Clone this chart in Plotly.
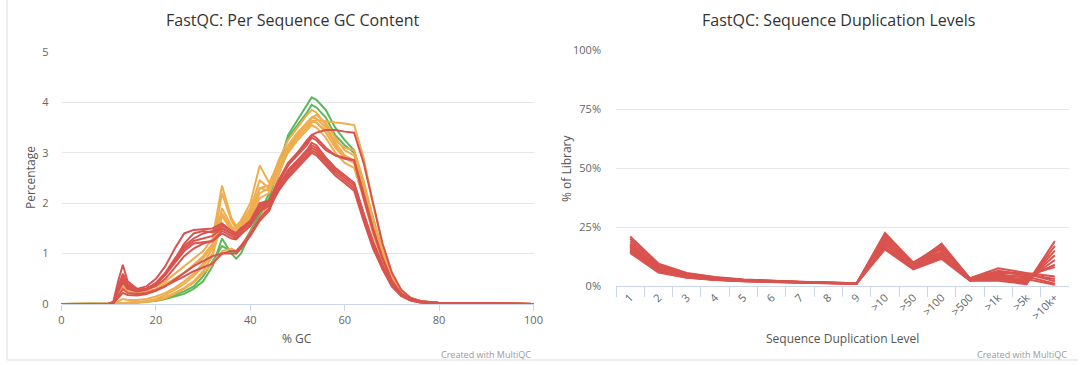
import plotly.graph_objects as go

W, H = 1082, 365

# ---------------- GC content data ----------------
gc_x = [0, 10, 11, 12, 13, 14, 16, 18, 20, 22, 24, 26, 28, 30, 32, 34, 36, 37, 38, 40,
        42, 44, 46, 48, 50, 52, 53, 54, 56, 58, 60, 62, 64, 66, 68, 70, 72, 74, 76, 80, 85, 100]

gc_green_1 = [0, 0, 0, 0.01, 0.01, 0.02, 0.03, 0.04, 0.06, 0.1, 0.15, 0.2, 0.3, 0.45, 0.75, 1.3, 1.0, 0.9, 1.0, 1.4,
              1.75, 2.1, 2.7, 3.35, 3.65, 3.95, 4.1, 4.05, 3.85, 3.5, 3.25, 3.05, 2.4, 1.7, 1.05, 0.55, 0.25, 0.12, 0.06, 0.02, 0.01, 0]
gc_green_2 = [0, 0, 0, 0.01, 0.02, 0.02, 0.03, 0.05, 0.08, 0.12, 0.18, 0.25, 0.35, 0.55, 0.85, 1.15, 1.05, 1.0, 1.1, 1.45,
              1.8, 2.2, 2.75, 3.3, 3.55, 3.8, 3.95, 3.9, 3.7, 3.35, 3.15, 3.0, 2.35, 1.65, 1.0, 0.5, 0.22, 0.1, 0.05, 0.02, 0.01, 0]

gc_orange_1 = [0, 0, 0.02, 0.3, 0.55, 0.35, 0.25, 0.28, 0.35, 0.45, 0.6, 0.75, 0.9, 1.05, 1.3, 2.35, 1.7, 1.55, 1.65, 2.0,
               2.75, 2.4, 2.8, 3.1, 3.35, 3.6, 3.7, 3.75, 3.6, 3.3, 3.05, 2.95, 2.3, 1.6, 1.0, 0.5, 0.22, 0.1, 0.05, 0.02, 0.01, 0]
gc_orange_2 = [0, 0, 0.01, 0.05, 0.1, 0.08, 0.08, 0.1, 0.15, 0.22, 0.32, 0.45, 0.6, 0.8, 1.1, 2.2, 1.65, 1.5, 1.6, 1.9,
               2.45, 2.3, 2.7, 3.05, 3.3, 3.5, 3.6, 3.65, 3.62, 3.6, 3.58, 3.55, 2.9, 2.0, 1.2, 0.6, 0.27, 0.12, 0.06, 0.02, 0.01, 0]
gc_orange_3 = [0, 0, 0.02, 0.25, 0.45, 0.3, 0.22, 0.25, 0.3, 0.4, 0.5, 0.62, 0.75, 0.9, 1.15, 1.9, 1.55, 1.45, 1.55, 1.85,
               2.3, 2.35, 2.85, 3.25, 3.5, 3.75, 3.85, 3.8, 3.55, 3.2, 2.95, 2.85, 2.2, 1.5, 0.95, 0.48, 0.2, 0.1, 0.05, 0.02, 0.01, 0]
gc_orange_4 = [0, 0, 0, 0.01, 0.02, 0.02, 0.03, 0.05, 0.08, 0.14, 0.22, 0.32, 0.45, 0.65, 0.95, 1.75, 1.45, 1.35, 1.45, 1.75,
               2.2, 2.3, 2.75, 3.15, 3.4, 3.6, 3.7, 3.68, 3.5, 3.15, 2.9, 2.8, 2.15, 1.45, 0.9, 0.45, 0.2, 0.09, 0.04, 0.02, 0.01, 0]
gc_orange_5 = [0, 0, 0, 0.01, 0.02, 0.02, 0.04, 0.06, 0.1, 0.18, 0.28, 0.4, 0.55, 0.75, 1.0, 1.6, 1.4, 1.3, 1.4, 1.7,
               2.1, 2.2, 2.65, 3.0, 3.25, 3.45, 3.55, 3.5, 3.3, 3.0, 2.8, 2.7, 2.1, 1.4, 0.85, 0.42, 0.18, 0.08, 0.04, 0.02, 0.01, 0]
gc_orange_6 = [0, 0, 0, 0.01, 0.01, 0.02, 0.03, 0.04, 0.07, 0.12, 0.2, 0.3, 0.42, 0.6, 0.8, 1.05, 1.1, 1.05, 1.15, 1.4,
               1.7, 2.0, 2.55, 3.05, 3.35, 3.6, 3.65, 3.6, 3.4, 3.1, 2.9, 2.8, 2.2, 1.5, 0.95, 0.48, 0.22, 0.1, 0.05, 0.02, 0.01, 0]
gc_orange_7 = [0, 0, 0.02, 0.2, 0.35, 0.25, 0.2, 0.22, 0.28, 0.38, 0.5, 0.62, 0.78, 0.95, 1.2, 1.8, 1.5, 1.4, 1.5, 1.8,
               2.3, 2.25, 2.7, 3.1, 3.35, 3.55, 3.62, 3.6, 3.45, 3.25, 3.1, 3.05, 2.45, 1.7, 1.05, 0.55, 0.25, 0.11, 0.05, 0.02, 0.01, 0]

gc_red_1 = [0, 0, 0.05, 0.45, 0.78, 0.45, 0.3, 0.35, 0.5, 0.75, 1.1, 1.4, 1.47, 1.48, 1.5, 1.6, 1.45, 1.4, 1.5, 1.65,
            2.0, 2.05, 2.45, 2.75, 2.95, 3.15, 3.3, 3.25, 3.05, 2.95, 2.9, 2.85, 2.1, 1.45, 0.9, 0.45, 0.2, 0.1, 0.05, 0.02, 0.01, 0]
gc_red_2 = [0, 0, 0.04, 0.35, 0.6, 0.4, 0.28, 0.3, 0.42, 0.62, 0.9, 1.15, 1.3, 1.4, 1.45, 1.55, 1.45, 1.4, 1.5, 1.6,
            1.9, 2.0, 2.4, 2.75, 3.0, 3.25, 3.35, 3.4, 3.45, 3.45, 3.42, 3.4, 2.8, 2.0, 1.2, 0.62, 0.28, 0.12, 0.06, 0.02, 0.01, 0]
gc_red_3 = [0, 0, 0.03, 0.3, 0.5, 0.35, 0.27, 0.3, 0.4, 0.58, 0.85, 1.1, 1.25, 1.3, 1.35, 1.5, 1.4, 1.35, 1.45, 1.6,
            1.95, 2.0, 2.35, 2.65, 2.85, 3.05, 3.2, 3.15, 2.9, 2.7, 2.55, 2.4, 1.8, 1.25, 0.78, 0.4, 0.18, 0.08, 0.04, 0.02, 0.01, 0]
gc_red_4 = [0, 0, 0.03, 0.25, 0.42, 0.3, 0.25, 0.28, 0.36, 0.5, 0.72, 0.95, 1.1, 1.2, 1.25, 1.45, 1.35, 1.3, 1.4, 1.55,
            1.85, 1.95, 2.3, 2.6, 2.8, 3.0, 3.1, 3.05, 2.85, 2.65, 2.5, 2.35, 1.75, 1.2, 0.75, 0.38, 0.17, 0.08, 0.04, 0.02, 0.01, 0]
gc_red_5 = [0, 0, 0.02, 0.15, 0.3, 0.22, 0.2, 0.22, 0.28, 0.36, 0.45, 0.55, 0.65, 0.72, 0.8, 1.0, 1.05, 1.05, 1.15, 1.4,
            1.7, 1.9, 2.25, 2.55, 2.75, 2.95, 3.05, 3.0, 2.8, 2.6, 2.45, 2.3, 1.7, 1.15, 0.7, 0.35, 0.16, 0.07, 0.03, 0.01, 0.01, 0]
gc_red_6 = [0, 0, 0.03, 0.28, 0.48, 0.33, 0.26, 0.3, 0.4, 0.6, 0.88, 1.2, 1.4, 1.45, 1.42, 1.5, 1.4, 1.38, 1.48, 1.62,
            1.95, 2.05, 2.45, 2.8, 3.0, 3.2, 3.35, 3.3, 3.1, 2.95, 2.88, 2.85, 2.2, 1.5, 0.92, 0.46, 0.2, 0.09, 0.04, 0.02, 0.01, 0]
gc_red_7 = [0, 0, 0.02, 0.12, 0.22, 0.18, 0.17, 0.2, 0.26, 0.35, 0.48, 0.62, 0.75, 0.85, 0.95, 1.0, 1.0, 1.0, 1.1, 1.35,
            1.65, 1.85, 2.3, 2.65, 2.85, 3.05, 3.15, 3.1, 2.9, 2.7, 2.55, 2.4, 1.8, 1.2, 0.75, 0.38, 0.17, 0.08, 0.04, 0.02, 0.01, 0]
gc_red_8 = [0, 0, 0.03, 0.3, 0.55, 0.36, 0.27, 0.3, 0.4, 0.58, 0.82, 1.05, 1.2, 1.22, 1.25, 1.4, 1.3, 1.28, 1.38, 1.55,
            1.85, 1.95, 2.25, 2.5, 2.7, 2.9, 3.0, 2.95, 2.75, 2.55, 2.4, 2.25, 1.65, 1.1, 0.7, 0.35, 0.16, 0.07, 0.03, 0.01, 0.01, 0]

gc_x_ticks = [0, 20, 40, 60, 80, 100]
gc_y_ticks = [0, 1, 2, 3, 4, 5]

# ---------------- Duplication data ----------------
dup_levels = ["1", "2", "3", "4", "5", "6", "7", "8", "9", ">10", ">50", ">100", ">500", ">1k", ">5k", ">10k+"]

dup_1 = [21.0, 9.5, 5.5, 3.8, 2.8, 2.2, 1.8, 1.5, 1.2, 15.5, 7.0, 11.5, 2.2, 2.2, 0.8, 19.0]
dup_2 = [20.0, 9.0, 5.3, 3.6, 2.7, 2.1, 1.7, 1.45, 1.2, 16.5, 7.5, 12.0, 2.4, 3.0, 1.0, 17.0]
dup_3 = [19.0, 8.5, 5.0, 3.5, 2.6, 2.1, 1.7, 1.4, 1.15, 17.5, 8.0, 12.5, 2.5, 3.5, 1.5, 15.0]
dup_4 = [18.0, 8.0, 4.8, 3.3, 2.5, 2.0, 1.65, 1.4, 1.15, 18.5, 8.5, 13.5, 2.6, 4.0, 2.0, 13.0]
dup_5 = [17.5, 7.5, 4.6, 3.2, 2.4, 1.95, 1.6, 1.35, 1.1, 19.5, 9.0, 14.5, 2.8, 4.5, 2.5, 11.0]
dup_6 = [17.0, 7.2, 4.4, 3.1, 2.35, 1.9, 1.6, 1.35, 1.1, 20.5, 9.5, 15.5, 3.0, 5.0, 3.5, 9.0]
dup_7 = [16.5, 7.0, 4.2, 3.0, 2.3, 1.85, 1.55, 1.3, 1.1, 21.5, 10.0, 16.5, 3.2, 6.0, 4.5, 8.0]
dup_8 = [16.0, 6.7, 4.0, 2.9, 2.2, 1.8, 1.5, 1.3, 1.05, 22.5, 9.8, 17.5, 3.3, 7.5, 5.5, 4.0]
dup_9 = [15.5, 6.5, 3.9, 2.8, 2.15, 1.75, 1.5, 1.25, 1.05, 22.0, 9.0, 18.0, 3.0, 6.5, 5.0, 3.0]
dup_10 = [15.0, 6.2, 3.8, 2.7, 2.1, 1.7, 1.45, 1.25, 1.0, 20.0, 8.5, 16.0, 2.8, 5.5, 5.2, 2.0]
dup_11 = [14.5, 6.0, 3.6, 2.6, 2.0, 1.65, 1.4, 1.2, 1.0, 18.0, 8.0, 14.0, 2.5, 4.5, 4.0, 1.0]
dup_12 = [14.0, 5.7, 3.5, 2.5, 2.0, 1.6, 1.4, 1.2, 1.0, 16.0, 7.5, 13.0, 2.3, 3.0, 3.0, 0.5]

dup_y_ticks = [0, 25, 50, 75, 100]
dup_y_labels = ["0%", "25%", "50%", "75%", "100%"]

GREEN, ORANGE, RED = "#5cb85c", "#f0ad4e", "#d9534f"
FONT = "Open Sans, Lato, DejaVu Sans, sans-serif"

gc_series = ([(s, GREEN) for s in [gc_green_1, gc_green_2]] +
             [(s, ORANGE) for s in [gc_orange_1, gc_orange_2, gc_orange_3, gc_orange_4,
                                    gc_orange_5, gc_orange_6, gc_orange_7]] +
             [(s, RED) for s in [gc_red_1, gc_red_2, gc_red_3, gc_red_4,
                                 gc_red_5, gc_red_6, gc_red_7, gc_red_8]])
dup_series = [dup_1, dup_2, dup_3, dup_4, dup_5, dup_6, dup_7, dup_8, dup_9, dup_10, dup_11, dup_12]

fig = go.Figure()
for ys, col in gc_series:
    fig.add_trace(go.Scatter(x=gc_x, y=ys, mode="lines", line=dict(color=col, width=2),
                             xaxis="x", yaxis="y", showlegend=False, hoverinfo="skip"))
for ys in dup_series:
    fig.add_trace(go.Scatter(x=dup_levels, y=ys, mode="lines", line=dict(color=RED, width=2),
                             xaxis="x2", yaxis="y2", showlegend=False, hoverinfo="skip"))


def px(x):
    return x / W


def py(y):
    return 1 - y / H


tick_font = dict(family=FONT, size=11, color="#666666")
AXC = "#ccd6eb"
GRIDC = "#e6e6e6"

fig.update_layout(
    width=W, height=H,
    margin=dict(l=0, r=0, t=0, b=0, autoexpand=False),
    paper_bgcolor="white", plot_bgcolor="white",
    font=dict(family=FONT),
    xaxis=dict(domain=[px(61.5), px(533.5)], range=[0, 100], tickvals=gc_x_ticks,
               showgrid=False, zeroline=False, showline=True, linecolor=AXC, linewidth=1,
               ticks="outside", ticklen=6, tickcolor=AXC, tickfont=tick_font, anchor="y",
               automargin=False),
    yaxis=dict(domain=[py(304), py(52)], range=[0, 5], tickvals=gc_y_ticks,
               showgrid=True, gridcolor=GRIDC, zeroline=False, showline=False,
               tickfont=tick_font, ticklabelstandoff=12, anchor="x", automargin=False),
    xaxis2=dict(domain=[px(616), px(1069)], type="category", categoryorder="array",
                categoryarray=dup_levels, range=[-0.5, 15.5], tickson="boundaries",
                showgrid=False, zeroline=False, showline=True, linecolor=AXC, linewidth=1,
                ticks="outside", ticklen=10, tickcolor=AXC, tickangle=-45,
                tickfont=tick_font, anchor="y2", automargin=False),
    yaxis2=dict(domain=[py(286), py(50)], range=[0, 100], tickvals=dup_y_ticks,
                ticktext=dup_y_labels, showgrid=True, gridcolor=GRIDC, zeroline=False,
                showline=False, tickfont=tick_font, ticklabelstandoff=14, anchor="x2",
                automargin=False),
)

ann = []
ann.append(dict(text="FastQC: Per Sequence GC Content", x=px(293), y=py(20), xref="paper", yref="paper",
                showarrow=False, xanchor="center", yanchor="middle",
                font=dict(family=FONT, size=16, color="#333333")))
ann.append(dict(text="FastQC: Sequence Duplication Levels", x=px(838), y=py(20), xref="paper", yref="paper",
                showarrow=False, xanchor="center", yanchor="middle",
                font=dict(family=FONT, size=16, color="#333333")))
ann.append(dict(text="% GC", x=px(297), y=py(338), xref="paper", yref="paper", showarrow=False,
                xanchor="center", yanchor="middle", font=dict(family=FONT, size=12, color="#555555")))
ann.append(dict(text="Sequence Duplication Level", x=px(842), y=py(338), xref="paper", yref="paper",
                showarrow=False, xanchor="center", yanchor="middle",
                font=dict(family=FONT, size=12, color="#555555")))
ann.append(dict(text="Percentage", x=px(30), y=py(178), xref="paper", yref="paper", showarrow=False,
                textangle=-90, xanchor="center", yanchor="middle",
                font=dict(family=FONT, size=12, color="#555555")))
ann.append(dict(text="% of Library", x=px(566), y=py(168), xref="paper", yref="paper", showarrow=False,
                textangle=-90, xanchor="center", yanchor="middle",
                font=dict(family=FONT, size=12, color="#555555")))
for xr in (533, 1069):
    ann.append(dict(text="Created with MultiQC", x=px(xr), y=py(354), xref="paper", yref="paper",
                    showarrow=False, xanchor="right", yanchor="middle",
                    font=dict(family=FONT, size=9, color="#999999")))
fig.update_layout(annotations=ann)

fig.update_layout(shapes=[
    dict(type="line", xref="paper", yref="paper", x0=px(7), x1=px(7), y0=py(0), y1=py(360),
         line=dict(color="#dddddd", width=1)),
    dict(type="line", xref="paper", yref="paper", x0=px(7), x1=px(1078), y0=py(360), y1=py(360),
         line=dict(color="#dddddd", width=1)),
])

fig.write_html("out.html", config={"displayModeBar": False},
               post_script="document.body.style.margin='0';document.body.style.overflow='hidden';")
